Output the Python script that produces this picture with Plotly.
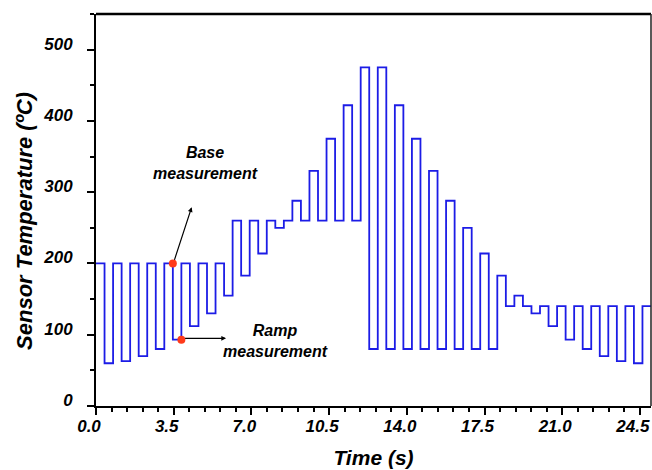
import plotly.graph_objects as go

# ---- data ----
# base levels (one per group of 8 ramp pulses; last group has one extra base step)
base_levels = [200, 260, 80, 140]
# ramp measurement levels (one per pulse), in order
ramp_levels = [60, 63, 70, 80, 93, 112, 130, 155,
               183, 214, 250, 288, 330, 375, 422, 475,
               475, 422, 375, 330, 288, 250, 214, 183,
               155, 130, 112, 93, 80, 70, 63, 60]
n_segments = 65
t_end = 25.0
x_ticks = [0.0, 3.5, 7.0, 10.5, 14.0, 17.5, 21.0, 24.5]
y_ticks = [0, 100, 200, 300, 400, 500]

# build alternating base / ramp step sequence
values = []
for i in range(n_segments):
    if i % 2 == 0:
        grp = min(i // 16, 3)
        values.append(base_levels[grp])
    else:
        values.append(ramp_levels[i // 2])
step = t_end / n_segments
times = [i * step for i in range(n_segments)] + [t_end]
values_plot = values + [values[-1]]

# measurement marker points (end of a base step and end of the following ramp step)
base_pt = (times[9], values[8])
ramp_pt = (times[10], values[9])

FONT = "Liberation Sans"
blue = "#1c1ce6"
tickfont = dict(size=17, weight="bold", style="italic", family=FONT, color="black")
titlefont = dict(size=21, weight="bold", style="italic", family=FONT, color="black")
annfont = dict(size=16, weight="bold", style="italic", family=FONT, color="black")

fig = go.Figure()
fig.add_trace(go.Scatter(x=times, y=values_plot, mode="lines", line_shape="hv",
                         line=dict(color=blue, width=1.8), showlegend=False,
                         hoverinfo="skip"))
fig.add_trace(go.Scatter(x=[base_pt[0], ramp_pt[0]], y=[base_pt[1], ramp_pt[1]],
                         mode="markers", marker=dict(color="#ff3a1a", size=8),
                         showlegend=False))

fig.update_layout(
    width=652, height=470,
    margin=dict(l=96, r=1, t=14, b=64),
    plot_bgcolor="white", paper_bgcolor="white",
    font=dict(family=FONT, color="black"),
)
fig.update_xaxes(
    range=[0, 25], tickvals=x_ticks, ticktext=[f"{v:.1f}" for v in x_ticks],
    ticks="outside", ticklen=7, tickwidth=1.5, tickcolor="black",
    minor=dict(dtick=0.7, tick0=0, ticks="outside", ticklen=4, tickwidth=1.5, tickcolor="black", showgrid=False),
    showline=True, linecolor="black", linewidth=2, showgrid=False, zeroline=False,
    tickfont=tickfont, ticklabelshift=-7, ticklabelstandoff=-3, ticklabeloverflow="allow",
    title=dict(text="Time (s)", font=titlefont, standoff=15),
)
fig.update_yaxes(
    range=[0, 550], tickvals=y_ticks,
    ticks="outside", ticklen=7, tickwidth=1.5, tickcolor="black",
    minor=dict(dtick=50, tick0=0, ticks="outside", ticklen=4, tickwidth=1.5, tickcolor="black", showgrid=False),
    showline=True, linecolor="black", linewidth=2, showgrid=False, zeroline=False,
    tickfont=tickfont, ticklabelshift=-6, ticklabelstandoff=11, ticklabeloverflow="allow",
)

# y-axis title as rotated text
fig.add_annotation(x=-0.128, y=0.472, xref="paper", yref="paper", showarrow=False,
                   text="Sensor Temperature (ºC)", textangle=-90,
                   xanchor="center", yanchor="middle",
                   font=dict(size=22, weight="bold", style="italic", family=FONT, color="black"))

# frame: thick top, thin right
fig.add_shape(type="line", xref="paper", yref="paper", x0=0, x1=1, y0=1, y1=1,
              line=dict(color="black", width=2.5))
fig.add_shape(type="line", xref="paper", yref="paper", x0=1, x1=1, y0=0, y1=1,
              line=dict(color="#222222", width=1.5))

# arrows
fig.add_annotation(x=4.31, y=279, ax=base_pt[0] + 0.05, ay=base_pt[1] + 3,
                   xref="x", yref="y", axref="x", ayref="y", text="",
                   showarrow=True, arrowhead=2, arrowsize=0.8, arrowwidth=1.2, arrowcolor="black")
fig.add_annotation(x=5.86, y=ramp_pt[1] + 2, ax=ramp_pt[0] + 0.1, ay=ramp_pt[1] + 2,
                   xref="x", yref="y", axref="x", ayref="y", text="",
                   showarrow=True, arrowhead=2, arrowsize=0.8, arrowwidth=1.2, arrowcolor="black")
# labels
fig.add_annotation(x=4.91, y=341, xref="x", yref="y", showarrow=False,
                   text="Base<br>measurement", font=annfont)
fig.add_annotation(x=8.1, y=91, xref="x", yref="y", showarrow=False,
                   text="Ramp<br>measurement", font=annfont)

fig.write_html("out.html")
